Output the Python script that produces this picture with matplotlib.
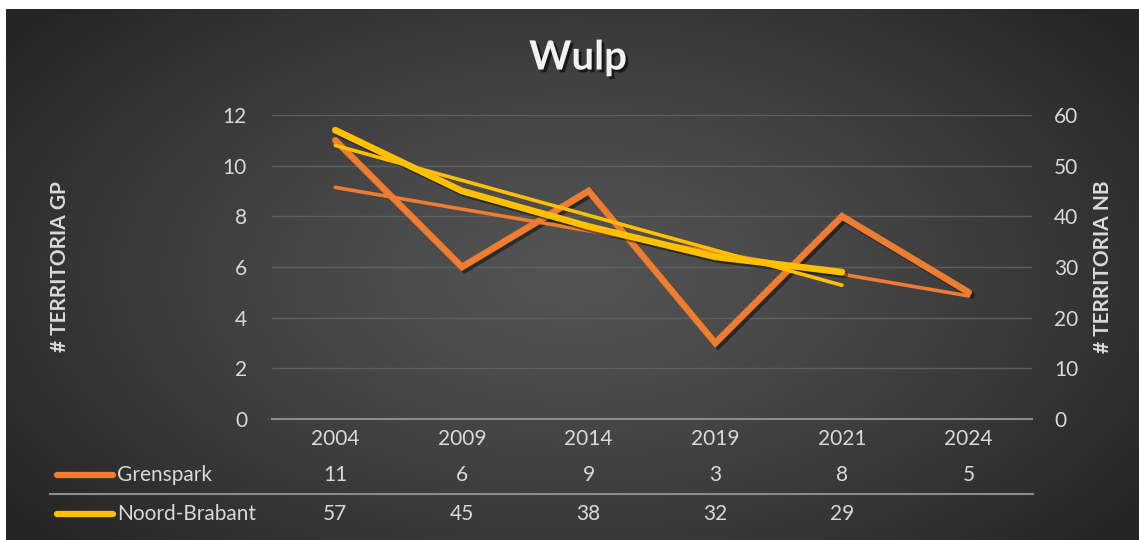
import numpy as np
import matplotlib
matplotlib.use('Agg')
import matplotlib.pyplot as plt
import matplotlib.patheffects as pe
from matplotlib.lines import Line2D
from matplotlib.transforms import blended_transform_factory

plt.rcParams['font.family'] = ['Lato', 'DejaVu Sans']

years = ['2004', '2009', '2014', '2019', '2021', '2024']
grenspark = [11, 6, 9, 3, 8, 5]
noord_brabant = [57, 45, 38, 32, 29, None]

orange = '#ED7D31'
yellow = '#FFC000'
txt = '#D9D9D9'
fs = 15

W, H = 1139, 540
fig = plt.figure(figsize=(W / 100, H / 100), dpi=100, facecolor='white')

# dark radial gradient backdrop
bg = fig.add_axes([6 / W, 0, 1 - 6 / W, 1 - 9 / H])
bg.axis('off')
yy, xx = np.mgrid[0:1:300j, 0:1:600j]
d = np.sqrt(((xx - 0.5) / 0.62) ** 2 + ((yy - 0.5) / 0.75) ** 2)
d = np.clip(d, 0, 1)
c0, c1 = 0x53 / 255, 0x25 / 255
img = c0 + (c1 - c0) * d ** 1.3
bg.imshow(np.dstack([img, img, img]), aspect='auto', extent=[0, 1, 0, 1])

x = np.arange(len(years))
gp = np.array(grenspark, dtype=float)
nb = np.array([np.nan if v is None else v for v in noord_brabant], dtype=float)

ax = fig.add_axes([272 / W, 1 - 419 / H, 760 / W, 304 / H])
ax.set_facecolor('none')
ax.set_xlim(-0.5, len(years) - 0.5)
ax.set_ylim(0, 12)
ax.set_yticks(range(0, 13, 2))
ax.set_xticks(x)
ax.set_xticklabels(years)
ax.grid(axis='y', color='#5E5E5E', lw=1)
ax.set_axisbelow(True)
for s in ['top', 'left', 'right']:
    ax.spines[s].set_visible(False)
ax.spines['bottom'].set_color('#8C8C8C')
ax.spines['bottom'].set_linewidth(1.5)
ax.tick_params(axis='y', length=0, pad=18, labelsize=fs, labelcolor=txt)
ax.tick_params(axis='x', length=0, pad=7, labelsize=fs, labelcolor=txt)

shadow = [pe.SimpleLineShadow(offset=(2, -2), shadow_color='black', alpha=0.45), pe.Normal()]

ax.plot(x, gp, color=orange, lw=4.8, solid_joinstyle='miter', solid_capstyle='round',
        path_effects=shadow, zorder=3)
k = np.polyfit(x, gp, 1)
ax.plot(x, np.polyval(k, x), color=orange, lw=2.6, solid_capstyle='round', zorder=3)

ax2 = ax.twinx()
ax2.set_ylim(0, 60)
ax2.set_yticks(range(0, 61, 10))
for s in ax2.spines.values():
    s.set_visible(False)
ax2.tick_params(axis='y', length=0, pad=16, labelsize=fs, labelcolor=txt)
m = ~np.isnan(nb)
ax2.plot(x[m], nb[m], color=yellow, lw=4.8, solid_capstyle='round',
         path_effects=shadow, zorder=4)
k2 = np.polyfit(x[m], nb[m], 1)
ax2.plot(x[m], np.polyval(k2, x[m]), color=yellow, lw=2.6, solid_capstyle='round', zorder=4)

# axis titles and chart title
fig.text(60 / W, 1 - 267 / H, '# TERRITORIA GP', rotation=90, ha='center', va='center',
         color=txt, fontsize=fs, fontweight='bold')
fig.text(1103 / W, 1 - 267 / H, '# TERRITORIA NB', rotation=90, ha='center', va='center',
         color=txt, fontsize=fs, fontweight='bold')
fig.text(578 / W, 1 - 58 / H, 'Wulp', ha='center', va='center', color='#F2F2F2',
         fontsize=29, fontweight='bold',
         path_effects=[pe.withSimplePatchShadow(offset=(2, -2), shadow_rgbFace='black', alpha=0.6)])

# data table below the axis
tr = blended_transform_factory(ax.transData, fig.transFigure)
rows = [('Grenspark', grenspark, orange, 475), ('Noord-Brabant', noord_brabant, yellow, 514)]
for name, vals, col, ypx in rows:
    yf = 1 - ypx / H
    fig.add_artist(Line2D([57 / W, 113 / W], [yf, yf], color=col, lw=4.5,
                          solid_capstyle='round'))
    fig.text(117 / W, yf, name, ha='left', va='center', color=txt, fontsize=fs)
    for i, v in enumerate(vals):
        if v is not None:
            ax.text(i, yf, str(v), transform=tr, ha='center', va='center',
                    color=txt, fontsize=fs)
fig.add_artist(Line2D([50 / W, 1033 / W], [1 - 494 / H, 1 - 494 / H], color='#8C8C8C', lw=1.5))

fig.savefig('out.png', dpi=100, facecolor=fig.get_facecolor())
